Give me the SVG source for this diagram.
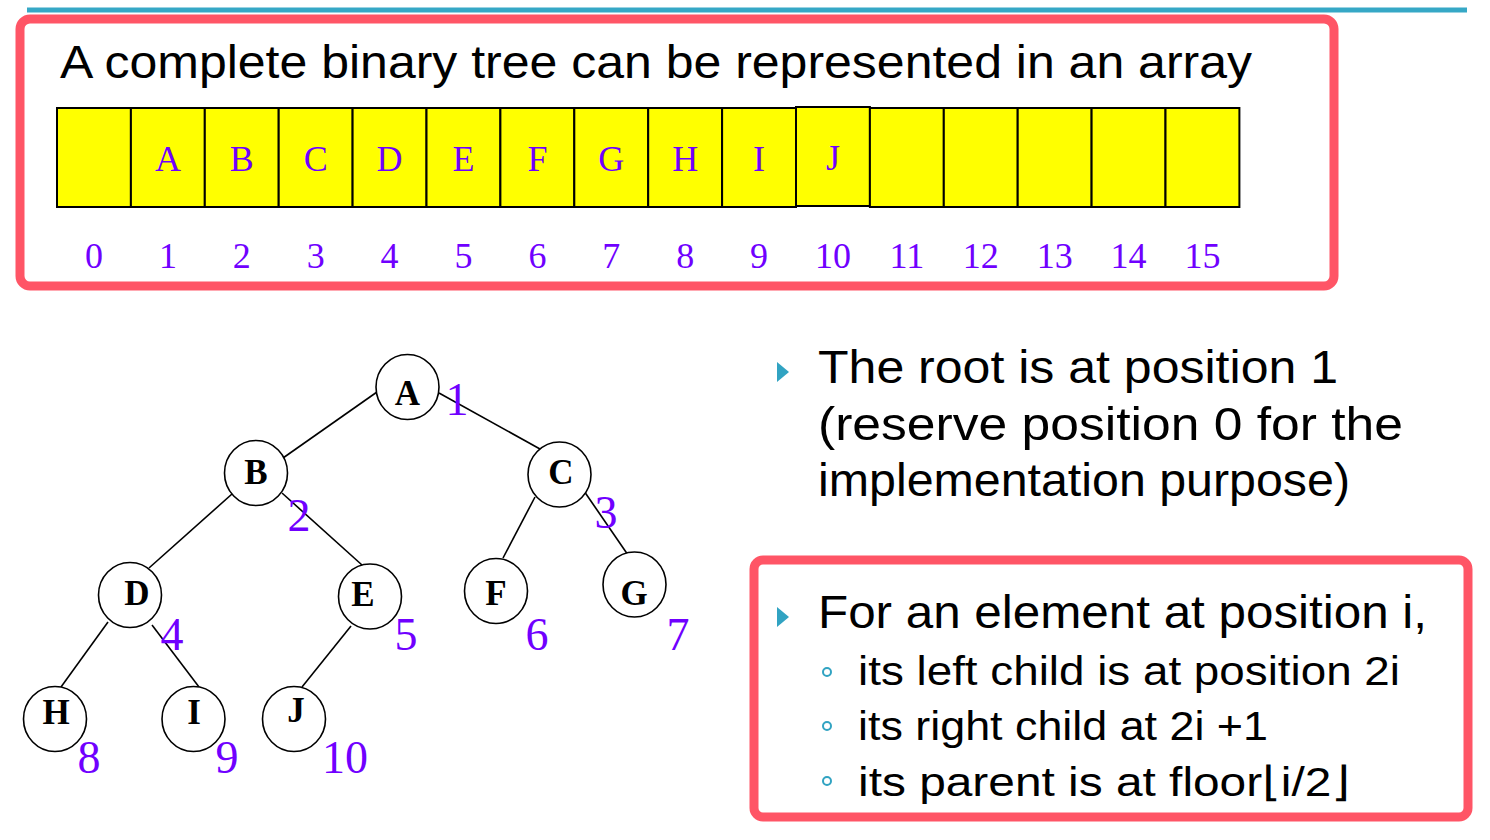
<svg xmlns="http://www.w3.org/2000/svg" width="1490" height="840" viewBox="0 0 1490 840">
<style>
.frame{fill:none;stroke:#ff5566;stroke-width:9}
.cell{fill:#ffff00;stroke:#000;stroke-width:2}
.alet{font-family:"Liberation Serif",serif;font-size:36px;fill:#7000ff;text-anchor:middle}
.idx{font-family:"Liberation Serif",serif;font-size:36px;fill:#7000ff;text-anchor:middle}
.node{fill:#fff;stroke:#000;stroke-width:1.6}
.nlab{font-family:"Liberation Serif",serif;font-size:35px;font-weight:bold;fill:#000;text-anchor:middle}
.num{font-family:"Liberation Serif",serif;font-size:46px;fill:#7000ff;text-anchor:middle}
.edge{stroke:#000;stroke-width:1.6;fill:none}
.big{font-family:"Liberation Sans","DejaVu Sans",sans-serif;font-size:46px;fill:#000}
.sub{font-family:"Liberation Sans","DejaVu Sans",sans-serif;font-size:41px;fill:#000}
.tri{fill:#31a3c2}
.dot{fill:none;stroke:#31a3c2;stroke-width:2}
</style>
<rect width="1490" height="840" fill="#fff"/>
<line x1="27" y1="10" x2="1467" y2="10" stroke="#36a8c6" stroke-width="5"/>

<g id="array-box">
<rect class="frame" x="20" y="19" width="1314" height="267" rx="10"/>
<text class="big" x="60" y="78" textLength="1192" lengthAdjust="spacingAndGlyphs">A complete binary tree can be represented in an array</text>
<g id="array">
<rect class="cell" x="57" y="108" width="73.9" height="99"/>
<rect class="cell" x="130.9" y="108" width="73.9" height="99"/>
<rect class="cell" x="204.8" y="108" width="73.9" height="99"/>
<rect class="cell" x="278.7" y="108" width="73.9" height="99"/>
<rect class="cell" x="352.6" y="108" width="73.9" height="99"/>
<rect class="cell" x="426.5" y="108" width="73.9" height="99"/>
<rect class="cell" x="500.4" y="108" width="73.9" height="99"/>
<rect class="cell" x="574.3" y="108" width="73.9" height="99"/>
<rect class="cell" x="648.2" y="108" width="73.9" height="99"/>
<rect class="cell" x="722.1" y="108" width="73.9" height="99"/>
<rect class="cell" x="796" y="107" width="73.9" height="99"/>
<rect class="cell" x="869.9" y="108" width="73.9" height="99"/>
<rect class="cell" x="943.8" y="108" width="73.9" height="99"/>
<rect class="cell" x="1017.7" y="108" width="73.9" height="99"/>
<rect class="cell" x="1091.6" y="108" width="73.9" height="99"/>
<rect class="cell" x="1165.5" y="108" width="73.9" height="99"/>
<text class="alet" x="167.9" y="171">A</text>
<text class="alet" x="241.8" y="171">B</text>
<text class="alet" x="315.7" y="171">C</text>
<text class="alet" x="389.6" y="171">D</text>
<text class="alet" x="463.5" y="171">E</text>
<text class="alet" x="537.4" y="171">F</text>
<text class="alet" x="611.3" y="171">G</text>
<text class="alet" x="685.2" y="171">H</text>
<text class="alet" x="759.1" y="171">I</text>
<text class="alet" x="833" y="170">J</text>
</g>
<g id="indices">
<text class="idx" x="94" y="268">0</text>
<text class="idx" x="167.9" y="268">1</text>
<text class="idx" x="241.8" y="268">2</text>
<text class="idx" x="315.7" y="268">3</text>
<text class="idx" x="389.6" y="268">4</text>
<text class="idx" x="463.5" y="268">5</text>
<text class="idx" x="537.4" y="268">6</text>
<text class="idx" x="611.3" y="268">7</text>
<text class="idx" x="685.2" y="268">8</text>
<text class="idx" x="759.1" y="268">9</text>
<text class="idx" x="833" y="268">10</text>
<text class="idx" x="906.9" y="268">11</text>
<text class="idx" x="980.8" y="268">12</text>
<text class="idx" x="1054.7" y="268">13</text>
<text class="idx" x="1128.6" y="268">14</text>
<text class="idx" x="1202.5" y="268">15</text>
</g>
</g>

<g id="connectors">
<line class="edge" x1="377" y1="392" x2="283" y2="458"/>
<line class="edge" x1="439" y1="393" x2="540" y2="449"/>
<line class="edge" x1="232" y1="494" x2="149" y2="568"/>
<line class="edge" x1="282" y1="493" x2="362" y2="565"/>
<line class="edge" x1="535" y1="497" x2="503" y2="558"/>
<line class="edge" x1="584" y1="491" x2="628" y2="555"/>
<line class="edge" x1="108" y1="622" x2="61" y2="687"/>
<line class="edge" x1="152" y1="625" x2="199" y2="687"/>
<line class="edge" x1="351" y1="626" x2="302" y2="687"/>
</g>

<g id="node-A"><ellipse class="node" cx="407.5" cy="387" rx="31.5" ry="32.5"/><text class="nlab" x="407.5" y="405">A</text></g>
<g id="node-B"><ellipse class="node" cx="256" cy="473" rx="31.5" ry="32.5"/><text class="nlab" x="256" y="484">B</text></g>
<g id="node-C"><ellipse class="node" cx="559.5" cy="474.5" rx="31.5" ry="32.5"/><text class="nlab" x="561" y="484">C</text></g>
<g id="node-D"><ellipse class="node" cx="130" cy="595" rx="31.5" ry="32.5"/><text class="nlab" x="137" y="605">D</text></g>
<g id="node-E"><ellipse class="node" cx="370" cy="596.5" rx="31.5" ry="32.5"/><text class="nlab" x="363" y="606">E</text></g>
<g id="node-F"><ellipse class="node" cx="496" cy="591" rx="31.5" ry="32.5"/><text class="nlab" x="496" y="605">F</text></g>
<g id="node-G"><ellipse class="node" cx="634.5" cy="584.5" rx="31.5" ry="32.5"/><text class="nlab" x="634" y="605">G</text></g>
<g id="node-H"><ellipse class="node" cx="55" cy="719" rx="31.5" ry="32.5"/><text class="nlab" x="56" y="724">H</text></g>
<g id="node-I"><ellipse class="node" cx="193.5" cy="719" rx="31.5" ry="32.5"/><text class="nlab" x="194" y="724">I</text></g>
<g id="node-J"><ellipse class="node" cx="294" cy="719" rx="31.5" ry="32.5"/><text class="nlab" x="296" y="722">J</text></g>

<g id="positions">
<text class="num" x="457" y="415">1</text>
<text class="num" x="299" y="531">2</text>
<text class="num" x="606" y="528">3</text>
<text class="num" x="172" y="650">4</text>
<text class="num" x="406" y="650">5</text>
<text class="num" x="537" y="650">6</text>
<text class="num" x="678" y="650">7</text>
<text class="num" x="89" y="773">8</text>
<text class="num" x="227" y="773">9</text>
<text class="num" x="345" y="773">10</text>
</g>

<g id="root-note">
<polygon class="tri" points="777,362 789,372 777,382"/>
<text class="big" x="818" y="383" textLength="520" lengthAdjust="spacingAndGlyphs">The root is at position 1</text>
<text class="big" x="818" y="440" textLength="585" lengthAdjust="spacingAndGlyphs">(reserve position 0 for the</text>
<text class="big" x="818" y="496" textLength="532" lengthAdjust="spacingAndGlyphs">implementation purpose)</text>
</g>

<g id="rules-box">
<rect class="frame" x="754" y="560" width="714" height="257" rx="9"/>
<polygon class="tri" points="777,607 789,617 777,627"/>
<text class="big" x="818" y="628" textLength="609" lengthAdjust="spacingAndGlyphs">For an element at position i,</text>
<circle class="dot" cx="827" cy="672" r="4"/>
<circle class="dot" cx="827" cy="726" r="4"/>
<circle class="dot" cx="827" cy="781" r="4"/>
<text class="sub" x="858" y="685" textLength="542" lengthAdjust="spacingAndGlyphs">its left child is at position 2i</text>
<text class="sub" x="858" y="740" textLength="410" lengthAdjust="spacingAndGlyphs">its right child at 2i +1</text>
<text class="sub" x="858" y="796" textLength="492" lengthAdjust="spacingAndGlyphs">its parent is at floor⌊i/2⌋</text>
</g>
</svg>
